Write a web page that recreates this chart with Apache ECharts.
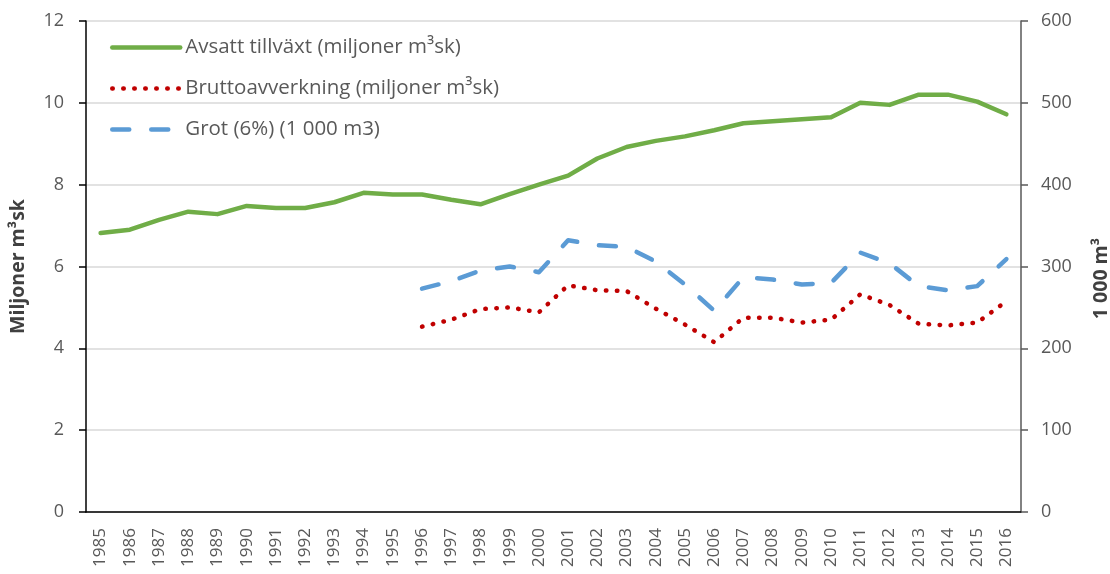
<!DOCTYPE html>
<html>
<head>
<meta charset="utf-8">
<script src="https://cdn.jsdelivr.net/npm/echarts@6/dist/echarts.min.js"></script>
<style>
html,body{margin:0;padding:0;background:#fff;}
#main{width:1110px;height:574px;}
</style>
</head>
<body>
<div id="main"></div>
<script>
var years = ['1985','1986','1987','1988','1989','1990','1991','1992','1993','1994','1995','1996','1997','1998','1999','2000',
    '2001','2002','2003','2004','2005','2006','2007','2008','2009','2010','2011','2012','2013','2014','2015','2016'];
// miljoner m3sk
var tillvaxt = [6.82,6.9,7.14,7.34,7.28,7.48,7.43,7.43,7.57,7.8,7.76,7.76,7.63,7.52,7.77,8.0,
    8.22,8.64,8.92,9.07,9.18,9.33,9.5,9.55,9.6,9.65,10.0,9.95,10.2,10.2,10.03,9.72];
var brutto = [null,null,null,null,null,null,null,null,null,null,null,4.53,4.7,4.96,5.0,4.88,
    5.54,5.42,5.4,4.97,4.58,4.15,4.75,4.75,4.63,4.7,5.32,5.06,4.6,4.56,4.63,5.15];
// 1 000 m3
var grot = [null,null,null,null,null,null,null,null,null,null,null,273,282,295,300,293,
    332,326,324,306,278,246,287,284,278,280,317,304,276,271,276,309];

var txt = '#595959';
var font = 'Open Sans';

var myChart = echarts.init(document.getElementById('main'));
var option = {
    animation: false,
    textStyle: {fontFamily: font},
    grid: {left: 86, right: 89, top: 21, bottom: 62, containLabel: false, outerBoundsMode: 'none'},
    legend: {
        orient: 'vertical',
        left: 110,
        top: 37,
        padding: 0,
        itemWidth: 68,
        itemHeight: 20,
        itemGap: 20,
        itemStyle: {opacity: 0},
        lineStyle: {width: 4.5, cap: 'round'},
        textStyle: {color: txt, fontSize: 20.5, fontFamily: font},
        data: ['Avsatt tillväxt (miljoner m³sk)', 'Bruttoavverkning (miljoner m³sk)', 'Grot (6%) (1 000 m3)']
    },
    xAxis: {
        type: 'category',
        data: years,
        boundaryGap: true,
        axisLine: {lineStyle: {color: '#000', width: 1.5}},
        axisTick: {show: false},
        axisLabel: {rotate: 90, color: txt, fontSize: 17, margin: 16}
    },
    yAxis: [{
        type: 'value',
        min: 0, max: 12, interval: 2,
        name: 'Miljoner m³sk',
        nameLocation: 'middle',
        nameRotate: 90,
        nameGap: 58,
        nameTextStyle: {color: '#404040', fontSize: 19.5, fontWeight: 'bold'},
        axisLine: {show: true, lineStyle: {color: '#000', width: 1.5}},
        axisTick: {show: true, length: 7, lineStyle: {color: '#000', width: 1.5}},
        axisLabel: {color: txt, fontSize: 18, margin: 22},
        splitLine: {lineStyle: {color: '#d9d9d9', width: 1.5}}
    }, {
        type: 'value',
        min: 0, max: 600, interval: 100,
        position: 'right',
        name: '1 000 m³',
        nameLocation: 'middle',
        nameRotate: 90,
        nameGap: 70,
        nameTextStyle: {color: '#404040', fontSize: 19.5, fontWeight: 'bold', padding: [0, 24, 0, 0]},
        axisLine: {show: true, lineStyle: {color: '#595959', width: 1.5}},
        axisTick: {show: true, length: 7, lineStyle: {color: '#595959', width: 1.5}},
        axisLabel: {color: txt, fontSize: 18, margin: 20},
        splitLine: {show: false}
    }],
    series: [{
        name: 'Avsatt tillväxt (miljoner m³sk)',
        type: 'line',
        data: tillvaxt,
        symbol: 'none',
        itemStyle: {color: '#70AD47'},
        lineStyle: {color: '#70AD47', width: 4.5, cap: 'round', join: 'round'}
    }, {
        name: 'Bruttoavverkning (miljoner m³sk)',
        type: 'line',
        data: brutto,
        symbol: 'none',
        itemStyle: {color: '#C00000'},
        lineStyle: {color: '#C00000', width: 4.5, type: [0.5, 10.5], cap: 'round', join: 'round'}
    }, {
        name: 'Grot (6%) (1 000 m3)',
        type: 'line',
        yAxisIndex: 1,
        data: grot,
        symbol: 'none',
        itemStyle: {color: '#5B9BD5'},
        lineStyle: {color: '#5B9BD5', width: 4.5, type: [17, 22], cap: 'round', join: 'round'}
    }]
};
myChart.setOption(option);
</script>
</body>
</html>
